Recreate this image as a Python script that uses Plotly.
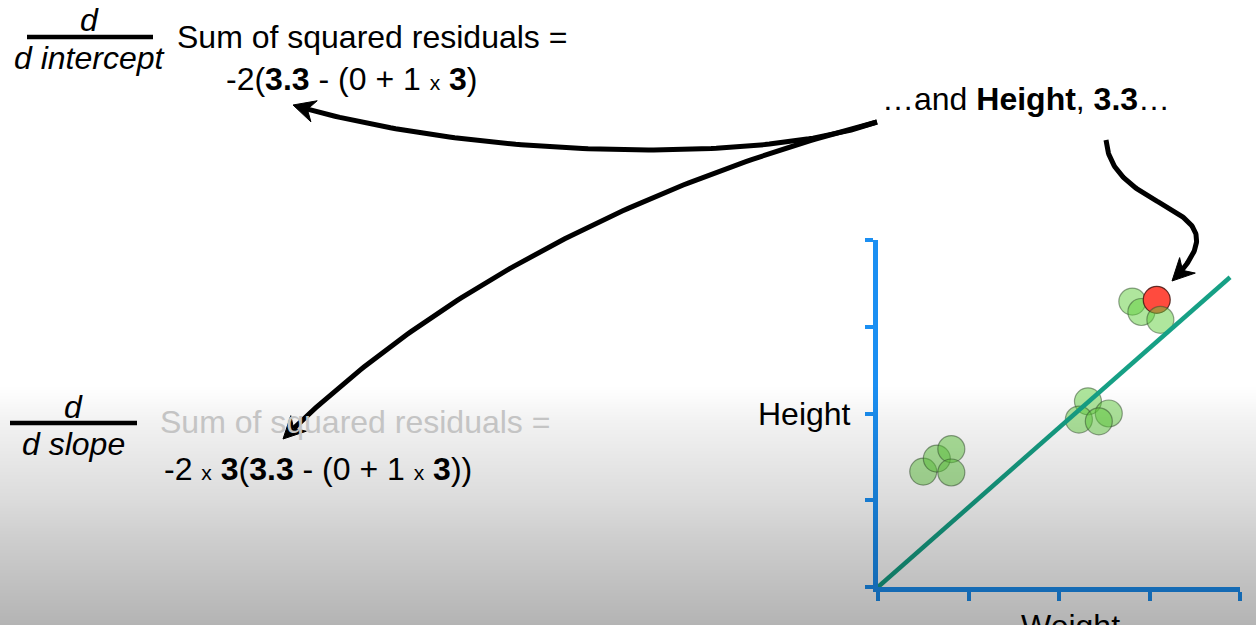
import base64
import struct
import zlib

import numpy as np
import plotly.graph_objects as go

W, H = 1256, 625

# ---------------- data ----------------
tick_values = [0, 1, 2, 3, 4]

green_weight = [0.50, 0.65, 0.81, 0.81, 2.32, 2.22, 2.55, 2.44, 2.81, 2.91]
green_height = [1.33, 1.48, 1.59, 1.32, 2.14, 1.93, 2.00, 1.91, 3.29, 3.17]
green_top_weight = [3.12]
green_top_height = [3.08]
red_weight = [3.08]
red_height = [3.31]

fit_weight = [0.0, 3.89]
fit_height = [0.0, 3.57]

# arrow curves: cubic Bezier control points (page pixels)
arrow1_ctrl_x = [877, 760, 470, 293]
arrow1_ctrl_y = [122, 165, 158, 105]
arrow2_ctrl_x = [877, 634, 424, 283]
arrow2_ctrl_y = [122, 184, 298, 439]
arrow3_ctrl_x = [1106, 1112, 1252, 1172]
arrow3_ctrl_y = [140, 218, 200, 281]

# ---------------- styles ----------------
FONT = "Liberation Sans, Arial, Helvetica, sans-serif"
BLUE = "#1b8ff2"
TEAL = "#16a085"
GREEN_FILL = "rgba(95,205,60,0.5)"
GREEN_LINE = "rgba(50,75,45,0.5)"
RED_FILL = "#ff4b3e"
RED_LINE = "rgba(70,25,20,0.85)"
SMALL_X = "<span style='font-size:21px'>x</span>"


def gradient_png(alphas):
    """Narrow RGBA png: black with the given alpha per row."""
    w = 2
    raw = b"".join(b"\x00" + bytes([0, 0, 0, a]) * w for a in alphas)

    def chunk(tag, data):
        c = struct.pack(">I", len(data)) + tag + data
        return c + struct.pack(">I", zlib.crc32(tag + data) & 0xFFFFFFFF)

    png = b"\x89PNG\r\n\x1a\n"
    png += chunk(b"IHDR", struct.pack(">IIBBBBB", w, len(alphas), 8, 6, 0, 0, 0))
    png += chunk(b"IDAT", zlib.compress(raw, 9))
    png += chunk(b"IEND", b"")
    return "data:image/png;base64," + base64.b64encode(png).decode()


grad_top = 385
rows = np.arange(grad_top, H)
alpha = np.interp(rows, [385, 400, 420, 460, 500, 540, 625],
                  [0.0, 0.02, 0.05, 0.095, 0.14, 0.195, 0.295])
grad_src = gradient_png([int(round(a * 255)) for a in alpha])

fig = go.Figure()


def arrow(cx, cy):
    p = np.array([cx, cy], float).T
    t = np.linspace(0, 1, 120)[:, None]
    curve = ((1 - t) ** 3) * p[0] + 3 * ((1 - t) ** 2) * t * p[1] + 3 * (1 - t) * t ** 2 * p[2] + t ** 3 * p[3]
    tip = p[3]
    d = p[3] - p[2]
    d /= np.hypot(*d)
    n = np.array([-d[1], d[0]])
    L, hw, notch = 22.0, 11.0, 7.0
    dist = np.hypot(curve[:, 0] - tip[0], curve[:, 1] - tip[1])
    shaft = curve[dist > 12]
    fig.add_trace(go.Scatter(x=shaft[:, 0], y=shaft[:, 1], mode="lines",
                             line=dict(color="black", width=5),
                             xaxis="x", yaxis="y", hoverinfo="skip", showlegend=False))
    base = tip - L * d
    left = base + hw * n
    right = base - hw * n
    nt = tip - (L - notch) * d
    px = [tip[0], left[0], nt[0], right[0], tip[0]]
    py = [tip[1], left[1], nt[1], right[1], tip[1]]
    fig.add_trace(go.Scatter(x=px, y=py, mode="lines", fill="toself", fillcolor="black",
                             line=dict(color="black", width=1),
                             xaxis="x", yaxis="y", hoverinfo="skip", showlegend=False))


arrow(arrow1_ctrl_x, arrow1_ctrl_y)
arrow(arrow2_ctrl_x, arrow2_ctrl_y)
arrow(arrow3_ctrl_x, arrow3_ctrl_y)

# scatter plot
fig.add_trace(go.Scatter(x=green_weight, y=green_height, mode="markers",
                         marker=dict(size=27, color=GREEN_FILL, line=dict(color=GREEN_LINE, width=1.2)),
                         xaxis="x2", yaxis="y2", cliponaxis=False, showlegend=False))
fig.add_trace(go.Scatter(x=red_weight, y=red_height, mode="markers",
                         marker=dict(size=27, color=RED_FILL, line=dict(color=RED_LINE, width=1.2)),
                         xaxis="x2", yaxis="y2", cliponaxis=False, showlegend=False))
fig.add_trace(go.Scatter(x=green_top_weight, y=green_top_height, mode="markers",
                         marker=dict(size=27, color=GREEN_FILL, line=dict(color=GREEN_LINE, width=1.2)),
                         xaxis="x2", yaxis="y2", cliponaxis=False, showlegend=False))
fig.add_trace(go.Scatter(x=fit_weight, y=fit_height, mode="lines",
                         line=dict(color=TEAL, width=4.5),
                         xaxis="x2", yaxis="y2", showlegend=False))


def px_x(v):
    return v / W


def px_y(v):
    return 1 - v / H


annotations = []


def text(t, x, y, xanchor="center", color="black", size=32, yshift=0):
    annotations.append(dict(text=t, x=px_x(x), y=px_y(y), xref="paper", yref="paper",
                            xanchor=xanchor, yanchor="middle", showarrow=False,
                            yshift=yshift,
                            font=dict(family=FONT, size=size, color=color)))


text("<i>d</i>", 89, 20)
text("<i>d intercept</i>", 89, 58)
text("Sum of squared residuals =", 175, 37, xanchor="left")
text(f"-2(<b>3.3</b> - (0 + 1 {SMALL_X} <b>3</b>)", 224, 79, xanchor="left")
text("…and <b>Height</b>, <b>3.3</b>…", 880, 99, xanchor="left")
text("<i>d</i>", 73, 407)
text("<i>d slope</i>", 73, 444)
text("Sum of squared residuals =", 158, 422, xanchor="left", color="#c4c4c4")
text(f"-2 {SMALL_X} <b>3</b>(<b>3.3</b> - (0 + 1 {SMALL_X} <b>3</b>))", 162, 469, xanchor="left")
text("Height", 853, 414, xanchor="right")
text("Weight", 1070, 625, yshift=-1)

shapes = [
    dict(type="line", xref="x", yref="y", x0=27, x1=153, y0=37, y1=37,
         line=dict(color="black", width=4.5)),
    dict(type="line", xref="x", yref="y", x0=10, x1=137, y0=423, y1=423,
         line=dict(color="black", width=4.5)),
]

fig.update_layout(
    width=W, height=H,
    margin=dict(l=0, r=0, t=0, b=0),
    paper_bgcolor="white", plot_bgcolor="rgba(0,0,0,0)",
    showlegend=False,
    xaxis=dict(domain=[0, 1], range=[0, W], visible=False, fixedrange=True),
    yaxis=dict(domain=[0, 1], range=[H, 0], visible=False, fixedrange=True),
    xaxis2=dict(domain=[878 / W, 1240 / W], range=[0, 4], anchor="y2",
                showline=True, linecolor=BLUE, linewidth=5,
                ticks="outside", ticklen=9, tickwidth=4, tickcolor=BLUE,
                tickvals=tick_values, showticklabels=False,
                showgrid=False, zeroline=False, fixedrange=True),
    yaxis2=dict(domain=[(H - 587) / H, (H - 240) / H], range=[0, 4], anchor="x2",
                showline=True, linecolor=BLUE, linewidth=5,
                ticks="outside", ticklen=8, tickwidth=4, tickcolor=BLUE,
                tickvals=tick_values, showticklabels=False,
                showgrid=False, zeroline=False, fixedrange=True),
    annotations=annotations,
    shapes=shapes,
    images=[dict(source=grad_src, xref="paper", yref="paper", x=0, y=1 - grad_top / H,
                 sizex=1, sizey=(H - grad_top) / H, xanchor="left", yanchor="top",
                 sizing="stretch", layer="above")],
)

fig.write_html("out.html", config=dict(displayModeBar=False),
               post_script="document.body.style.margin='0';document.body.style.overflow='hidden';")
